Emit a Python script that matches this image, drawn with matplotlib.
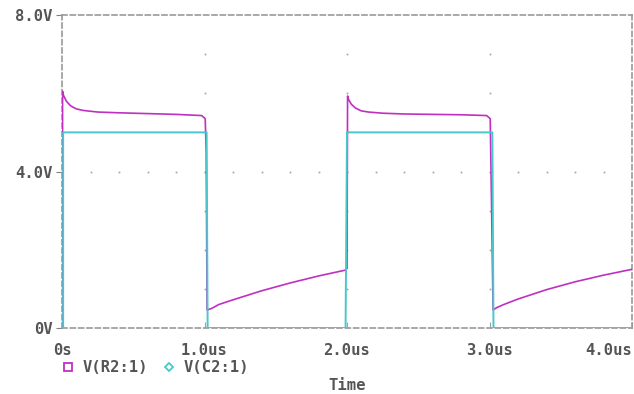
import numpy as np
import matplotlib.pyplot as plt
from matplotlib.lines import Line2D

# V(R2:1) trace, time in us, volts
t_r2 = [0.0, 0.004, 0.004, 0.01, 0.03, 0.06, 0.10, 0.15, 0.25, 0.40, 0.60, 0.80, 0.98,
        1.005, 1.012, 1.018, 1.05, 1.10, 1.20, 1.40, 1.60, 1.80, 1.99,
        2.0, 2.004, 2.01, 2.03, 2.06, 2.10, 2.15, 2.25, 2.40, 2.60, 2.80, 2.98,
        3.005, 3.015, 3.025, 3.05, 3.10, 3.20, 3.40, 3.60, 3.80, 4.0]
v_r2 = [0.0, 4.7, 6.05, 5.95, 5.80, 5.68, 5.60, 5.56, 5.52, 5.50, 5.48, 5.46, 5.43,
        5.35, 4.5, 0.46, 0.50, 0.60, 0.72, 0.95, 1.15, 1.33, 1.48,
        1.52, 5.93, 5.85, 5.72, 5.62, 5.55, 5.52, 5.49, 5.47, 5.46, 5.45, 5.43,
        5.35, 3.0, 0.46, 0.52, 0.60, 0.74, 0.98, 1.18, 1.35, 1.50]

# V(C2:1) trace
t_c2 = [0.0, 0.008, 0.008, 1.015, 1.022, 1.99, 2.0, 3.02, 3.028, 4.0]
v_c2 = [0.0, 0.0, 5.0, 5.0, 0.0, 0.0, 5.0, 5.0, 0.0, 0.0]

x_ticks = [0, 1, 2, 3, 4]
x_labels = ['0s', '1.0us', '2.0us', '3.0us', '4.0us']
y_ticks = [0, 4, 8]
y_labels = ['0V', '4.0V', '8.0V']

magenta = '#c030c0'
cyan = '#48c8c8'
gray = '#555555'
fs = 11.2
font = dict(family='DejaVu Sans Mono', fontweight='bold', color=gray, fontsize=fs)

fig = plt.figure(figsize=(6.34, 3.94), dpi=100)
ax = fig.add_axes([62 / 634, 66 / 394, 570 / 634, 313 / 394])

# dotted grid: columns at major x ticks, row at middle y tick
for xt in x_ticks[1:-1]:
    ys = np.arange(1, 8)
    ax.plot(np.full(len(ys), xt), ys, ls='none', marker='s', ms=1.2, color='#a0a0a0', mew=0)
xs = np.arange(0.2, 4.0, 0.2)
ax.plot(xs, np.full(len(xs), 4), ls='none', marker='s', ms=1.2, color='#a0a0a0', mew=0)

ax.plot(t_r2, v_r2, color=magenta, lw=1.2, zorder=3)
ax.plot(t_c2, v_c2, color=cyan, lw=1.4, zorder=4)

ax.set_xlim(0, 4)
ax.set_ylim(0, 8)
ax.set_xticks(x_ticks)
ax.set_xticklabels(x_labels, **font)
ax.get_xticklabels()[-1].set_horizontalalignment('right')
ax.get_xticklabels()[-1].set_x(4.0)
ax.set_yticks(y_ticks)
ax.set_yticklabels(y_labels, **font)
ax.tick_params(axis='x', direction='in', length=4, color='#a0a0a0', pad=10.5)
ax.tick_params(axis='y', direction='out', length=4.5, color='#808080', pad=2)

for s in ax.spines.values():
    s.set_linestyle((0, (3, 2)))
    s.set_color('#999999')
    s.set_linewidth(1.2)

fig.text(347 / 634, 1 - 386 / 394, 'Time', ha='center', va='center', **font)

handles = [Line2D([], [], ls='none', marker='s', mfc='none', mec=magenta, ms=6, mew=1.3),
           Line2D([], [], ls='none', marker='D', mfc='none', mec=cyan, ms=4.5, mew=1.3)]
leg = fig.legend(handles, ['V(R2:1)', 'V(C2:1)'], loc='center left',
                 bbox_to_anchor=(46 / 634, 1 - 368 / 394), ncol=2, frameon=False,
                 handlelength=1.0, handletextpad=0.45, columnspacing=0.85,
                 prop=dict(family='DejaVu Sans Mono', weight='bold', size=fs))
for txt in leg.get_texts():
    txt.set_color(gray)

fig.savefig('out.png', dpi=100)
